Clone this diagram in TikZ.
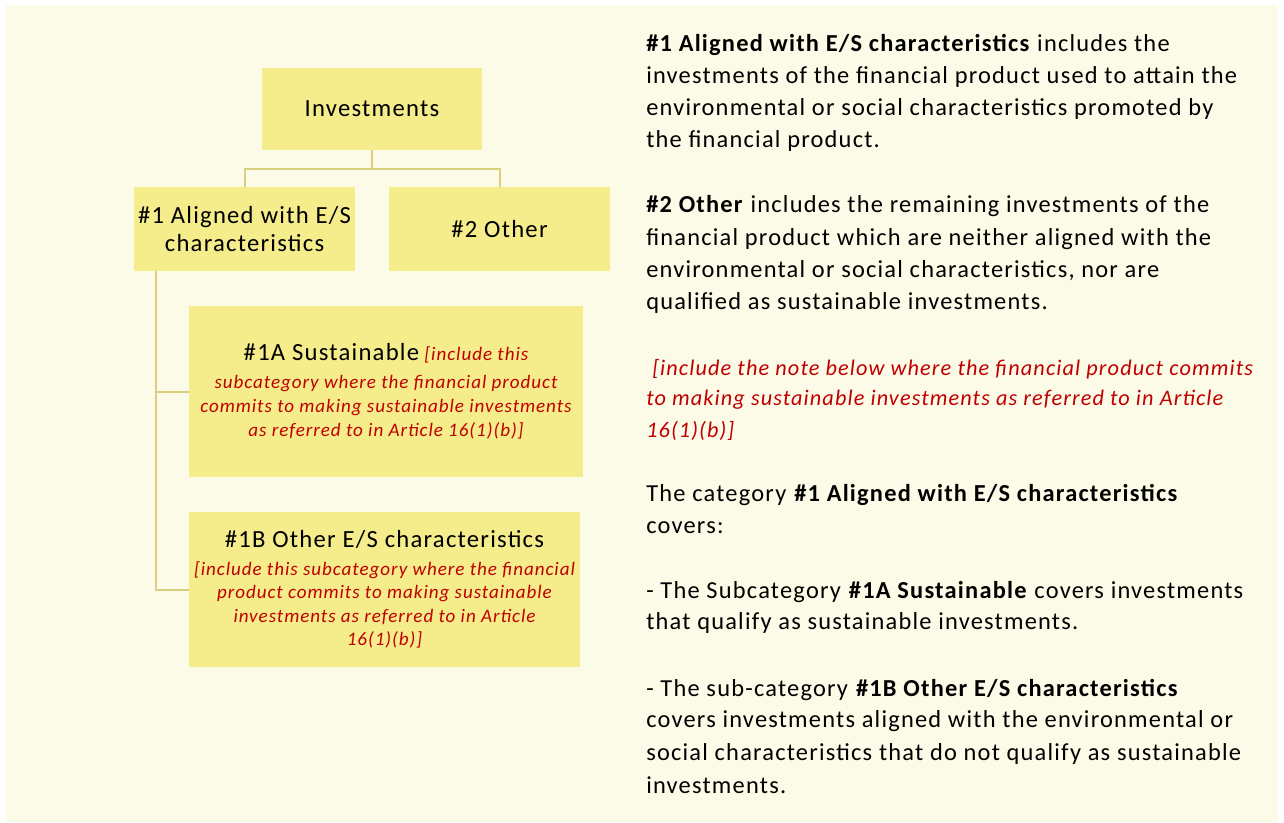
\documentclass[tikz,border=0pt]{standalone}
\usepackage{fontspec}
\setmainfont[LetterSpace=5]{Carlito}
\usetikzlibrary{calc}
\definecolor{bg}{HTML}{FCFBE8}
\definecolor{boxc}{HTML}{F5EC8B}
\definecolor{linec}{HTML}{D8CF80}
\definecolor{redc}{HTML}{C00000}
\newcommand{\ttl}[1]{{\color{black}\upshape\fontsize{18.5}{21}\selectfont #1}}
\begin{document}
\begin{tikzpicture}[x=0.75pt,y=-0.75pt,
  box/.style={fill=boxc, draw=none, inner sep=0pt, align=center, font=\fontsize{18.5}{21}\selectfont},
  subbox/.style={box, text=redc, font=\fontsize{14.3}{18}\selectfont\itshape},
  conn/.style={draw=linec, line width=1.5pt},
  txt/.style={anchor=base west, inner sep=0pt, font=\fontsize{18.3}{20}\selectfont},
  rtxt/.style={txt, text=redc, font=\fontsize{16.7}{20}\selectfont\itshape}]
\useasboundingbox (0,0) rectangle (1284,822);
\fill[bg] (6,5) rectangle (1278,822);

% boxes
\node[box, minimum width=165pt, minimum height=61.5pt] (inv) at (372,109) {Investments};
\node[box, minimum width=165.75pt, minimum height=63pt] (a1) at (244.5,229) {\#1 Aligned with E/S\\characteristics};
\node[box, minimum width=165.75pt, minimum height=63pt] (o2) at (499.5,229) {\#2 Other};
\node[subbox, minimum width=295.5pt, minimum height=128.25pt] (s1a) at (386,391.5)
  {\ttl{\#1A Sustainable} [include this\\[3pt]
   subcategory where the financial product\\
   commits to making sustainable investments\\
   as referred to in Article 16(1)(b)]};
\node[subbox, minimum width=293.25pt, minimum height=116.25pt, font=\fontsize{14.3}{17.6}\selectfont\itshape] (s1b) at (384.5,589.5)
  {\ttl{\#1B Other E/S characteristics}\\[3pt]
   [include this subcategory where the financial\\
   product commits to making sustainable\\
   investments as referred to in Article\\
   16(1)(b)]};

% connectors
\coordinate (j) at ($(inv.south)+(0,19)$);
\draw[conn] (inv.south) -- (j) -| (a1.north);
\draw[conn] (j) -| (o2.north);
\coordinate (v) at ($(a1.south west)+(22,0)$);
\draw[conn] (v) |- (s1a.west);
\draw[conn] (v) |- (s1b.west);

% right text
\node[txt] (t1) at (646,51) {\textbf{\#1 Aligned with E/S characteristics} includes the};
\node[txt] (t2) at (646,83) {investments of the financial product used to attain the};
\node[txt] (t3) at (646,115) {environmental or social characteristics promoted by};
\node[txt] (t4) at (646,147) {the financial product.};
\node[txt] (t5) at (646,212) {\textbf{\#2 Other} includes the remaining investments of the};
\node[txt] (t6) at (646,245) {financial product which are neither aligned with the};
\node[txt] (t7) at (646,277) {environmental or social characteristics, nor are};
\node[txt] (t8) at (646,309) {qualified as sustainable investments.};
\node[rtxt] (r1) at (652,375) {[include the note below where the financial product commits};
\node[rtxt] (r2) at (646,405) {to making sustainable investments as referred to in Article};
\node[rtxt] (r3) at (646,437) {16(1)(b)]};
\node[txt] (t9) at (646,501) {The category \textbf{\#1 Aligned with E/S characteristics}};
\node[txt] (t10) at (646,533) {covers:};
\node[txt] (t11) at (646,598) {- The Subcategory \textbf{\#1A Sustainable} covers investments};
\node[txt] (t12) at (646,629) {that qualify as sustainable investments.};
\node[txt] (t13) at (646,696) {- The sub-category \textbf{\#1B Other E/S characteristics}};
\node[txt] (t14) at (646,727) {covers investments aligned with the environmental or};
\node[txt] (t15) at (646,760) {social characteristics that do not qualify as sustainable};
\node[txt] (t16) at (646,793) {investments.};
\end{tikzpicture}
\end{document}
